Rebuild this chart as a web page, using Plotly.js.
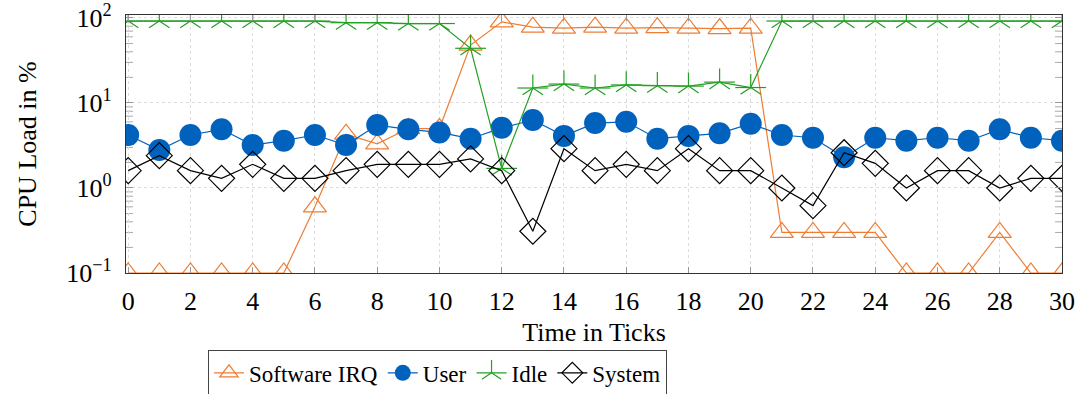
<!DOCTYPE html>
<html>
<head>
<meta charset="utf-8">
<script src="https://cdn.plot.ly/plotly-3.0.1.min.js"></script>
<style>html,body{margin:0;padding:0;background:#fff;}#chart{width:1086px;height:394px;}</style>
</head>
<body>
<div id="chart"></div>
<script>
const ticks = [0,1,2,3,4,5,6,7,8,9,10,11,12,13,14,15,16,17,18,19,20,21,22,23,24,25,26,27,28,29,30];
const softwareIRQ = [0.1,0.1,0.1,0.1,0.1,0.1,0.6,4.3,3.3,5,5,48,90,78,76,78,76,77,76,75,76,0.3,0.3,0.3,0.3,0.1,0.1,0.1,0.3,0.1,0.1];
const user = [4.2,2.8,4.2,4.9,3.2,3.6,4.2,3.2,5.5,4.9,4.5,3.8,5.1,6.3,4.1,5.8,6.0,3.8,4.1,4.4,5.7,4.2,3.9,2.3,3.9,3.6,3.9,3.6,4.9,3.9,3.6];
const idle = [92,92,92,92,92,92,92,88,88,86,86,44,1.7,15,16.7,15,16.3,16,15.8,17.6,15.2,92,92,92,92,92,92,92,92,92,92];
const system = [1.6,2.4,1.6,1.3,1.9,1.3,1.3,1.6,1.9,1.9,1.9,2.2,1.6,0.31,2.9,1.6,1.9,1.6,2.9,1.6,1.6,1.0,0.62,2.6,1.95,1.0,1.6,1.6,1.0,1.3,1.3];
const seriesNames = ['Software IRQ','User','Idle','System'];
const xTickVals = [0,2,4,6,8,10,12,14,16,18,20,22,24,26,28,30];
const yTickVals = [0.1, 1, 10, 100];
const yTickText = ['10<sup>\u22121</sup>','10<sup>0</sup>','10<sup>1</sup>','10<sup>2</sup>'];
const yMinorVals = [0.2,0.3,0.4,0.5,0.6,0.7,0.8,0.9,2,3,4,5,6,7,8,9,20,30,40,50,60,70,80,90];

const FONT = 'Liberation Serif';
const orange = '#EE7D33', blue = '#0062BD', green = '#22A022';

const traces = [
  {x: ticks, y: softwareIRQ, name: seriesNames[0], mode: 'lines+markers',
   line: {color: orange, width: 1.2},
   marker: {symbol: 'triangle-up-open', size: 20, color: orange, line: {width: 1.2, color: orange}}},
  {x: ticks, y: user, name: seriesNames[1], mode: 'lines+markers',
   line: {color: blue, width: 1.2},
   marker: {symbol: 'circle', size: 22, color: blue}},
  {x: ticks, y: idle, name: seriesNames[2], mode: 'lines+markers', legendgroup: 'idle',
   line: {color: green, width: 1.2},
   marker: {symbol: 'y-up-open', size: 17, color: green, line: {width: 1.2, color: green}}},
  {x: ticks, y: idle, name: seriesNames[2], mode: 'markers', legendgroup: 'idle', showlegend: false,
   marker: {symbol: 'line-ew-open', size: 22, color: green, line: {width: 1.2, color: green}}},
  {x: ticks, y: system, name: seriesNames[3], mode: 'lines+markers',
   line: {color: '#000', width: 1.2},
   marker: {symbol: 'diamond-open', size: 20, color: '#000', line: {width: 1.2, color: '#000'}}}
];

// minor ticks on the log axis (left and mirrored right side), positioned by the y scale
const tickShapes = [];
yMinorVals.forEach(v => {
  tickShapes.push({type: 'line', xref: 'paper', yref: 'y', x0: 0, x1: 0.0075, y0: v, y1: v, layer: 'below', line: {color: '#aaa', width: 1}});
  tickShapes.push({type: 'line', xref: 'paper', yref: 'y', x0: 1, x1: 0.9925, y0: v, y1: v, layer: 'below', line: {color: '#aaa', width: 1}});
});

const layout = {
  width: 1086, height: 394,
  margin: {l: 126, r: 24, t: 15, b: 121, autoexpand: false},
  paper_bgcolor: '#fff', plot_bgcolor: '#fff',
  font: {family: FONT, size: 26, color: '#000'},
  showlegend: true,
  legend: {orientation: 'h', x: 0.0876, y: -0.3, xanchor: 'left', yanchor: 'top',
    bordercolor: '#444', borderwidth: 1, font: {family: FONT, size: 23},
    itemclick: false, tracegroupgap: 0, traceorder: 'normal'},
  shapes: tickShapes,
  xaxis: {
    range: [-0.07, 30], tickvals: xTickVals, ticks: 'inside', ticklen: 6, tickcolor: '#999',
    showline: true, linecolor: '#333', linewidth: 1.3, mirror: 'allticks',
    showgrid: true, gridcolor: '#ddd', griddash: 'dot', zeroline: false,
    ticklabelstandoff: 4, ticklabeloverflow: 'allow',
    tickfont: {family: FONT, size: 26},
    title: {text: 'Time in Ticks', font: {family: FONT, size: 26}, standoff: 8}
  },
  yaxis: {
    type: 'log', range: [-1, 2.035], tickmode: 'array', tickvals: yTickVals, ticktext: yTickText,
    ticks: 'inside', ticklen: 7, tickcolor: '#999',
    showline: true, linecolor: '#333', linewidth: 1.3, mirror: 'allticks',
    showgrid: true, gridcolor: '#ddd', griddash: 'dot', zeroline: false,
    ticklabelstandoff: 8, ticklabeloverflow: 'allow',
    tickfont: {family: FONT, size: 26},
    title: {text: 'CPU Load in %', font: {family: FONT, size: 26}, standoff: 22}
  }
};

Plotly.newPlot('chart', traces, layout, {displayModeBar: false, staticPlot: true});
</script>
</body>
</html>
